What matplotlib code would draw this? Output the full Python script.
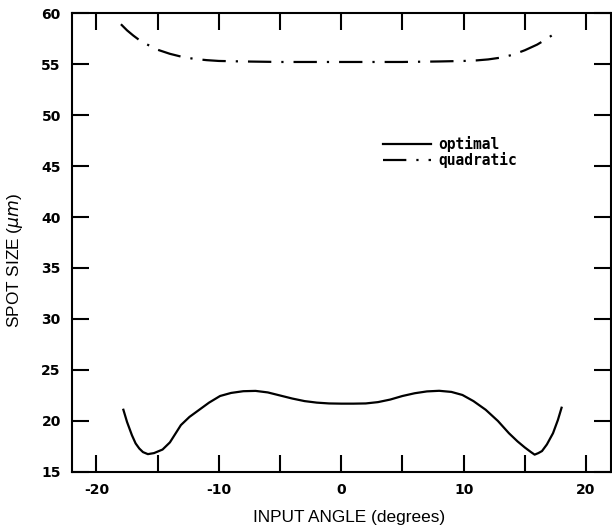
import numpy as np
import matplotlib
matplotlib.use('Agg')
import matplotlib.pyplot as plt

# spot size vs input angle
ang_opt = [-17.8, -17.5, -17.1, -16.8, -16.5, -16.2, -15.8, -15.3, -14.6, -14.0, -13.1,
           -12.4, -11.6, -10.8, -9.9, -9.0, -8.0, -7.0, -6.0, -5.0, -4.0, -3.0, -2.0,
           -1.0, 0.0, 1.0, 2.0, 3.0, 4.0, 5.0, 6.0, 7.0, 8.0, 9.0, 9.9, 10.8, 11.8,
           12.8, 13.7, 14.4, 15.0, 15.5, 15.8, 16.1, 16.4, 16.8, 17.3, 17.7, 18.0]
spot_opt = [21.1, 19.9, 18.6, 17.8, 17.3, 16.95, 16.75, 16.85, 17.2, 17.9, 19.6,
            20.4, 21.1, 21.8, 22.45, 22.75, 22.92, 22.95, 22.8, 22.5, 22.2, 21.95, 21.8,
            21.72, 21.7, 21.7, 21.72, 21.85, 22.1, 22.45, 22.72, 22.9, 22.96, 22.85, 22.55, 21.95, 21.1,
            20.0, 18.8, 18.0, 17.4, 16.95, 16.7, 16.85, 17.05, 17.7, 18.8, 20.1, 21.3]

ang_quad = [-18.0, -17.5, -17.0, -16.5, -16.0, -15.0, -14.0, -13.0, -12.0, -11.0, -10.0,
            -8.0, -5.0, 0.0, 5.0, 8.0, 10.0, 11.0, 12.0, 13.0, 14.0, 15.0, 16.0, 16.7,
            17.2, 17.6]
spot_quad = [58.9, 58.3, 57.8, 57.35, 57.0, 56.4, 56.0, 55.7, 55.5, 55.38, 55.3,
             55.25, 55.2, 55.2, 55.2, 55.25, 55.3, 55.35, 55.45, 55.62, 55.9, 56.35, 56.9, 57.4,
             57.8, 58.2]

xticks = np.arange(-20, 21, 5)
xlabels = ['-20', '', '-10', '', '0', '', '10', '', '20']
yticks = np.arange(15, 61, 5)

fig = plt.figure(figsize=(6.12, 5.27), dpi=100)
ax = fig.add_axes([0.1176, 0.1044, 0.880, 0.8709])

ax.plot(ang_opt, spot_opt, color='black', lw=1.6, label='optimal')
ax.plot(ang_quad, spot_quad, color='black', lw=1.6, dashes=(10.5, 4.5, 1, 4.5), label='quadratic')

ax.set_xlim(-22, 22)
ax.set_ylim(15, 60)
ax.set_xticks(xticks)
ax.set_xticklabels(xlabels)
ax.set_yticks(yticks)
ax.tick_params(direction='in', length=12, width=1.5, top=True, right=True, pad=8,
               labelsize=10)
for lab in ax.get_xticklabels() + ax.get_yticklabels():
    lab.set_fontweight('bold')
for sp in ax.spines.values():
    sp.set_linewidth(1.5)

ax.set_xlabel('INPUT ANGLE (degrees)', fontsize=12.4, family='Liberation Sans')
ax.set_ylabel(r'SPOT SIZE ($\mu m$)', fontsize=12.4, family='Liberation Sans')
ax.xaxis.set_label_coords(0.514, -0.083)
ax.yaxis.set_label_coords(-0.088, 0.462)

leg = ax.legend(loc='upper left', bbox_to_anchor=(0.577, 0.732), frameon=False,
                borderaxespad=0, borderpad=0, handlelength=3.3, handletextpad=0.5,
                labelspacing=0.0, prop={'family': 'DejaVu Sans Mono', 'weight': 'bold', 'size': 10.5})

fig.savefig('out.png', dpi=100)
